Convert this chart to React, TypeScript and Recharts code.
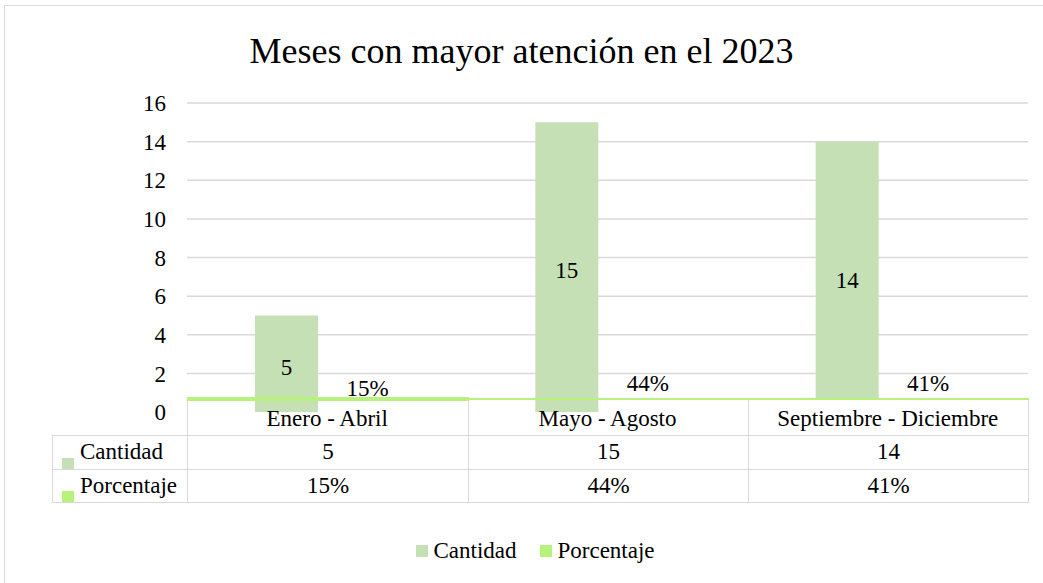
import React from 'react';
import { BarChart, Bar, XAxis, YAxis, CartesianGrid, Legend, LabelList, ReferenceArea } from 'recharts';

const categories = ['Enero - Abril', 'Mayo - Agosto', 'Septiembre - Diciembre'];
const cantidad = [5, 15, 14];
const porcentaje = [0.15, 0.44, 0.41];
const yTicks = [0, 2, 4, 6, 8, 10, 12, 14, 16];

const seriesNames = ['Cantidad', 'Porcentaje'];
const seriesColors = ['#c5e0b4', '#b8f27c'];

const data = categories.map((name, i) => ({
  name,
  cantidad: cantidad[i],
  porcentaje: porcentaje[i],
}));

const pct = (v: number) => `${Math.round(v * 100)}%`;

const font = 'Liberation Serif, DejaVu Serif, serif';
const gridColor = '#d9d9d9';
const fs = 23;

const renderLegend = (props: any) => {
  const items = props.payload || [];
  return (
    <div
      style={{
        display: 'flex',
        justifyContent: 'center',
        gap: 24,
        paddingLeft: 28,
        fontFamily: font,
        fontSize: fs,
        color: '#000',
      }}
    >
      {items.map((it: any) => (
        <div key={it.value} style={{ display: 'flex', alignItems: 'center' }}>
          <span style={{ width: 12, height: 12, background: it.color, marginRight: 5, display: 'inline-block' }} />
          <span>{it.value}</span>
        </div>
      ))}
    </div>
  );
};

const cellBorder = `1.5px solid ${gridColor}`;

const DataTable = () => {
  const rows = [
    { label: seriesNames[0], color: seriesColors[0], values: cantidad.map(String) },
    { label: seriesNames[1], color: seriesColors[1], values: porcentaje.map(pct) },
  ];
  return (
    <table
      style={{
        position: 'absolute',
        left: 52,
        top: 397,
        borderCollapse: 'collapse',
        tableLayout: 'fixed',
        fontFamily: font,
        fontSize: fs,
        color: '#000',
      }}
    >
      <colgroup>
        <col style={{ width: 135 }} />
        <col style={{ width: 281 }} />
        <col style={{ width: 280 }} />
        <col style={{ width: 280 }} />
      </colgroup>
      <tbody>
        <tr style={{ height: 36 }}>
          <td style={{ padding: 0 }} />
          {categories.map((c, i) => (
            <td
              key={c}
              style={{
                padding: 0,
                borderTop: `${i === 0 ? 4 : 2.5}px solid ${seriesColors[1]}`,
                borderLeft: cellBorder,
                borderRight: cellBorder,
                borderBottom: cellBorder,
              }}
            />
          ))}
        </tr>
        {rows.map((r, ri) => (
          <tr key={r.label} style={{ height: ri === 0 ? 34 : 33 }}>
            <td style={{ padding: 0, border: cellBorder, position: 'relative', whiteSpace: 'nowrap' }}>
              <span
                style={{ position: 'absolute', left: 9, bottom: 0, width: 12, height: 11, background: r.color }}
              />
              <span style={{ paddingLeft: 27 }}>{r.label}</span>
            </td>
            {r.values.map((v, i) => (
              <td key={i} style={{ padding: 0, border: cellBorder, textAlign: 'center' }}>
                {v}
              </td>
            ))}
          </tr>
        ))}
      </tbody>
    </table>
  );
};

export default function App() {
  const areaProps: any = { zIndex: 400 };
  return (
    <div style={{ position: 'absolute', left: 0, top: 0, width: 1043, height: 583, overflow: 'hidden', background: '#fff' }}>
      <div
        style={{
          position: 'absolute',
          left: 4,
          top: 5,
          width: 1100,
          height: 700,
          border: `1.5px solid ${gridColor}`,
        }}
      />
      <div
        style={{
          position: 'absolute',
          top: 27,
          left: 0,
          width: 1043,
          textAlign: 'center',
          fontFamily: font,
          fontSize: 36,
          lineHeight: '48px',
          color: '#000',
        }}
      >
        Meses con mayor atención en el 2023
      </div>
      <div style={{ position: 'absolute', left: 0, top: 0 }}>
        <BarChart
          width={1043}
          height={583}
          data={data}
          margin={{ top: 103, right: 15, bottom: 151, left: 127 }}
          barCategoryGap={68}
          barGap={18}
        >
          <CartesianGrid
            vertical={false}
            stroke={gridColor}
            strokeWidth={1.5}
            horizontalValues={yTicks.filter((t) => t > 0)}
          />
          <YAxis
            width={60}
            domain={[0, 16]}
            ticks={yTicks}
            axisLine={false}
            tickLine={false}
            tickSize={0}
            tickMargin={21}
            tick={{ fontFamily: font, fontSize: fs, fill: '#000' }}
          />
          <Legend
            layout="horizontal"
            verticalAlign="middle"
            align="center"
            wrapperStyle={{ top: 538, left: 0, width: 1043 }}
            content={renderLegend}
          />
          <Bar dataKey="cantidad" name={seriesNames[0]} fill={seriesColors[0]} isAnimationActive={false}>
            <LabelList
              dataKey="cantidad"
              position="center"
              dy={3}
              style={{ fontFamily: font, fontSize: fs, fill: '#000' }}
            />
          </Bar>
          <Bar
            dataKey="porcentaje"
            name={seriesNames[1]}
            fill={seriesColors[1]}
            fillOpacity={0}
            isAnimationActive={false}
          >
            <LabelList
              dataKey="porcentaje"
              position="top"
              offset={13}
              formatter={(v: any) => pct(Number(v))}
              style={{ fontFamily: font, fontSize: fs, fill: '#000' }}
            />
          </Bar>
          <ReferenceArea
            {...areaProps}
            x1={categories[2]}
            x2={categories[2]}
            y1={0}
            y2={0.7}
            fill="#fff"
            fillOpacity={1}
            stroke="none"
          />
          <XAxis
            dataKey="name"
            height={20}
            axisLine={false}
            tickLine={false}
            tickSize={0}
            tickMargin={-2}
            interval={0}
            tick={{ fontFamily: font, fontSize: fs, fill: '#000' }}
          />
        </BarChart>
      </div>
      <DataTable />
    </div>
  );
}
